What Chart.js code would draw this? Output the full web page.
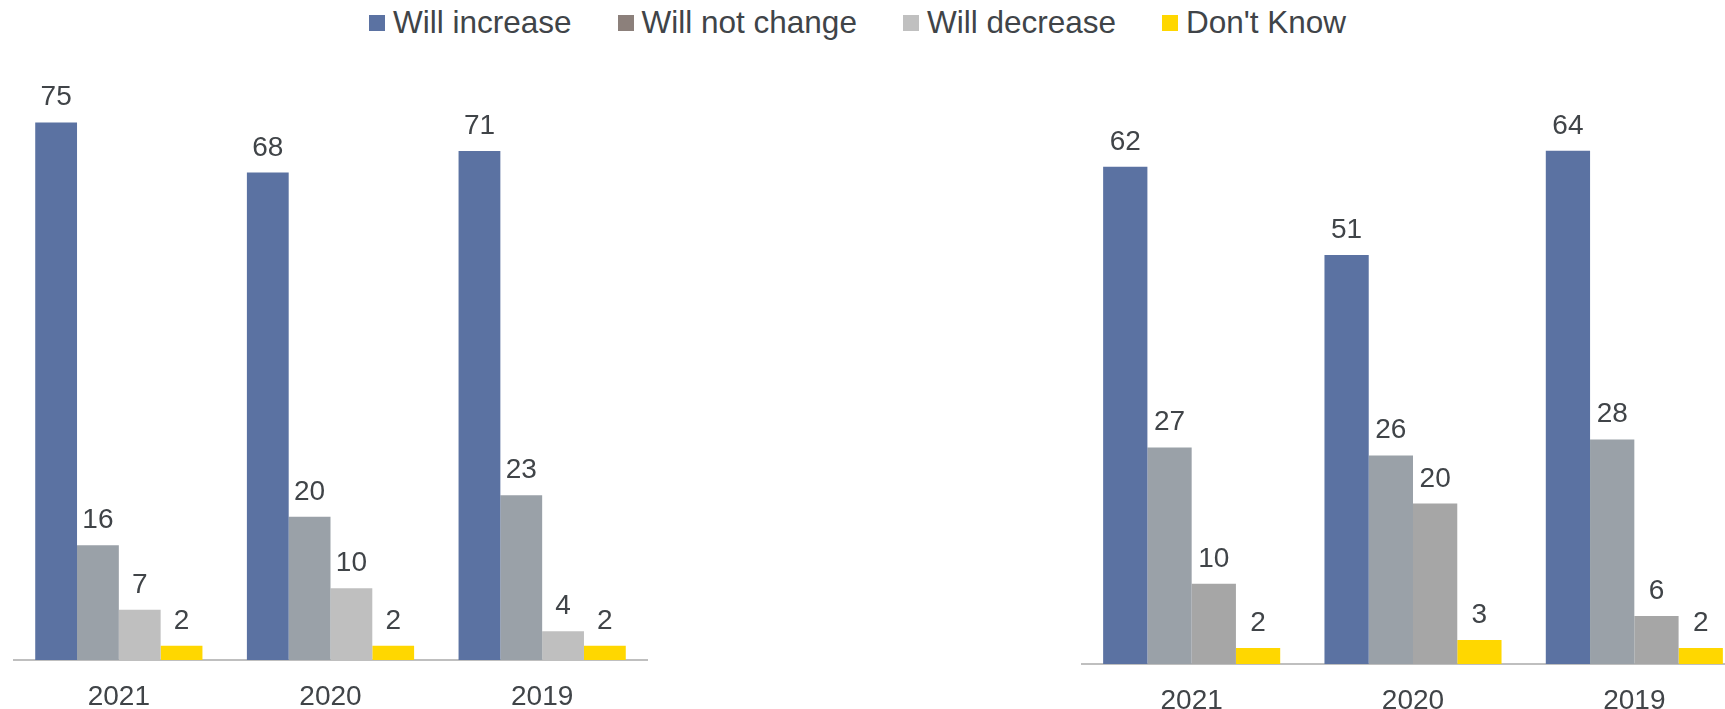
<!DOCTYPE html>
<html>
<head>
<meta charset="utf-8">
<script src="https://cdn.jsdelivr.net/npm/chart.js@4.4.1/dist/chart.umd.min.js"></script>
<style>
  html, body { margin: 0; padding: 0; background: #fff; width: 1725px; height: 709px; overflow: hidden; }
  body { position: relative; font-family: "Liberation Sans", Arial, sans-serif; color: #404448; }
  #legend { position: absolute; top: 4px; left: 369px; display: flex; font-size: 31.5px; white-space: nowrap; }
  #legend .item { display: flex; align-items: center; margin-right: 46px; }
  #legend .box { width: 16px; height: 16px; margin-right: 8px; }
  .wrap { position: absolute; }
</style>
</head>
<body>
<div id="legend"></div>
<div class="wrap" style="left:13px; top:40px;"><canvas id="leftChart" width="635" height="670"></canvas></div>
<div class="wrap" style="left:1081px; top:40px;"><canvas id="rightChart" width="664" height="674"></canvas></div>
<script>
  const categories = ["2021", "2020", "2019"];
  const seriesNames = ["Will increase", "Will not change", "Will decrease", "Don't Know"];

  const leftIncrease = [75, 68, 71];
  const leftNoChange = [16, 20, 23];
  const leftDecrease = [7, 10, 4];
  const leftDontKnow = [2, 2, 2];

  const rightIncrease = [62, 51, 64];
  const rightNoChange = [27, 26, 28];
  const rightDecrease = [10, 20, 6];
  const rightDontKnow = [2, 3, 2];

  const legendColors = ["#5B72A2", "#8C807B", "#C0C0C0", "#FFD700"];
  const textColor = "#404448";

  // html legend shared by both charts
  const legend = document.getElementById("legend");
  seriesNames.forEach((name, i) => {
    const item = document.createElement("div");
    item.className = "item";
    item.innerHTML = `<span class="box" style="background:${legendColors[i]}"></span><span>${name}</span>`;
    legend.appendChild(item);
  });

  const valueLabels = {
    id: "valueLabels",
    afterDatasetsDraw(chart) {
      const ctx = chart.ctx;
      ctx.save();
      ctx.font = "28px 'Liberation Sans', Arial, sans-serif";
      ctx.fillStyle = textColor;
      ctx.textAlign = "center";
      ctx.textBaseline = "alphabetic";
      chart.data.datasets.forEach((ds, i) => {
        chart.getDatasetMeta(i).data.forEach((bar, j) => {
          ctx.fillText(ds.data[j], bar.x, bar.y - 17);
        });
      });
      ctx.restore();
    },
  };

  function makeChart(id, values, colors, yMax, catPct) {
    const datasets = values.map((data, i) => ({
      label: seriesNames[i],
      data: data,
      backgroundColor: colors[i],
      borderWidth: 0,
      categoryPercentage: catPct,
      barPercentage: 1,
    }));
    return new Chart(document.getElementById(id), {
      type: "bar",
      data: { labels: categories, datasets },
      options: {
        responsive: false,
        animation: false,
        devicePixelRatio: 1,
        layout: { padding: 0 },
        plugins: { legend: { display: false }, tooltip: { enabled: false } },
        scales: {
          y: { display: false, min: 0, max: yMax },
          x: {
            grid: { display: false, drawTicks: false },
            border: { display: true, color: "#BFBFBF", width: 2 },
            ticks: {
              color: textColor,
              padding: 20,
              font: { family: "'Liberation Sans', Arial, sans-serif", size: 28 },
            },
            afterFit: (s) => { s.height = 50; },
          },
        },
      },
      plugins: [valueLabels],
    });
  }

  makeChart("leftChart",
    [leftIncrease, leftNoChange, leftDecrease, leftDontKnow],
    ["#5B72A2", "#9AA1A8", "#BFBFBF", "#FFD700"], 86.5, 0.79);

  makeChart("rightChart",
    [rightIncrease, rightNoChange, rightDecrease, rightDontKnow],
    ["#5B72A2", "#9AA1A8", "#A6A6A6", "#FFD700"], 77.8, 0.8);
</script>
</body>
</html>
